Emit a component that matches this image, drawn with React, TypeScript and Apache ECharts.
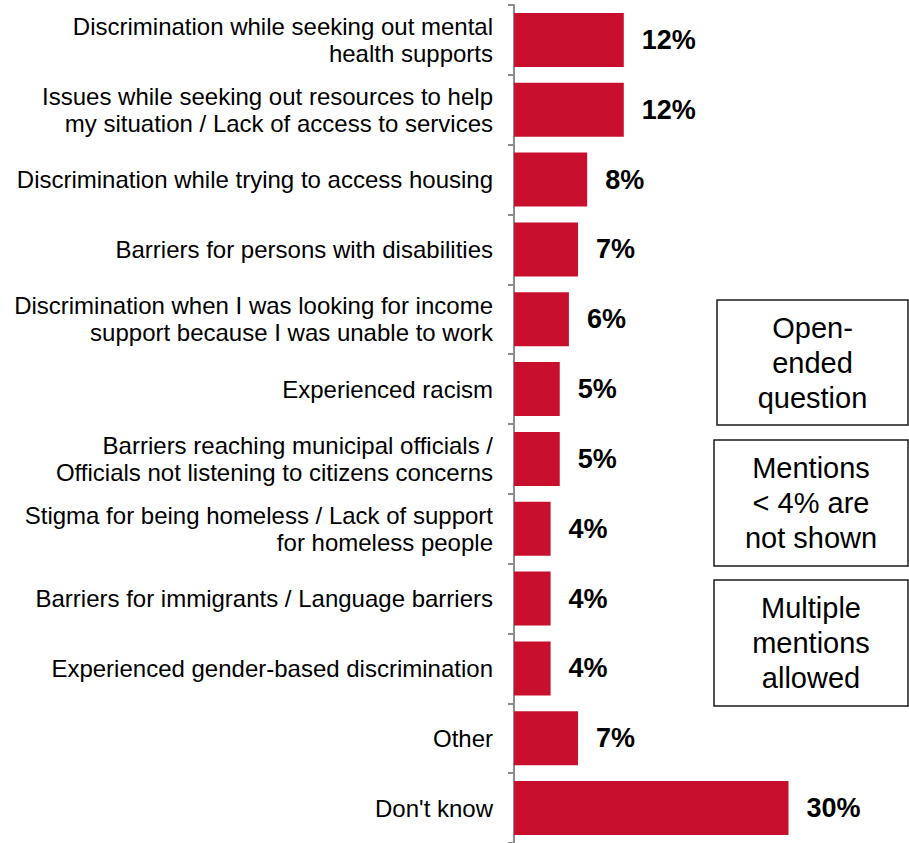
import React, { useEffect, useRef } from "react";
import * as echarts from "echarts";

const categories = [
  "Discrimination while seeking out mental\nhealth supports",
  "Issues while seeking out resources to help\nmy situation / Lack of access to services",
  "Discrimination while trying to access housing",
  "Barriers for persons with disabilities",
  "Discrimination when I was looking for income\nsupport because I was unable to work",
  "Experienced racism",
  "Barriers reaching municipal officials /\nOfficials not listening to citizens concerns",
  "Stigma for being homeless / Lack of support\nfor homeless people",
  "Barriers for immigrants / Language barriers",
  "Experienced gender-based discrimination",
  "Other",
  "Don't know",
];
const values = [12, 12, 8, 7, 6, 5, 5, 4, 4, 4, 7, 30];
const notes = [
  "Open-\nended\nquestion",
  "Mentions\n< 4% are\nnot shown",
  "Multiple\nmentions\nallowed",
];

const FONT = '"Liberation Sans", Arial, Helvetica, sans-serif';

export default function App() {
  const ref = useRef<HTMLDivElement>(null);
  useEffect(() => {
    if (!ref.current) return;
    const chart = echarts.init(ref.current, null, { renderer: "svg" });
    const boxes = [
      { x: 717, y: 300, w: 191, h: 125 },
      { x: 714, y: 440, w: 194, h: 126 },
      { x: 714, y: 580, w: 194, h: 126 },
    ];
    const graphic: any[] = [];
    boxes.forEach((b, i) => {
      graphic.push({
        type: "rect",
        shape: { x: b.x, y: b.y, width: b.w, height: b.h },
        style: { fill: "#fff", stroke: "#1a1a1a", lineWidth: 1.5 },
        z: 10,
      });
      graphic.push({
        type: "text",
        x: b.x + b.w / 2,
        y: b.y + b.h / 2,
        style: {
          text: notes[i],
          font: `29px ${FONT}`,
          fill: "#000",
          align: "center",
          verticalAlign: "middle",
          lineHeight: 35,
        },
        z: 11,
      });
    });
    chart.setOption({
      animation: false,
      grid: { left: 514, right: 29, top: 5, bottom: -2, containLabel: false },
      xAxis: {
        type: "value",
        min: 0,
        max: 40,
        show: false,
      },
      yAxis: {
        type: "category",
        inverse: true,
        data: categories,
        axisLine: { show: true, lineStyle: { color: "#8c8c8c", width: 2 } },
        axisTick: { show: true, length: 6, lineStyle: { color: "#8c8c8c", width: 2 } },
        axisLabel: {
          margin: 21,
          fontSize: 24,
          lineHeight: 27,
          color: "#000",
          fontFamily: FONT,
          align: "right",
        },
      },
      series: [
        {
          type: "bar",
          data: values,
          barWidth: 54,
          itemStyle: { color: "#C8102E" },
          label: {
            show: true,
            position: "right",
            distance: 18,
            formatter: "{c}%",
            fontSize: 27,
            fontWeight: "bold",
            color: "#000",
            fontFamily: FONT,
          },
        },
      ],
      graphic,
    });
    return () => chart.dispose();
  }, []);
  return (
    <div
      ref={ref}
      style={{ position: "fixed", left: 0, top: 0, width: 909, height: 843, background: "#fff" }}
    />
  );
}
